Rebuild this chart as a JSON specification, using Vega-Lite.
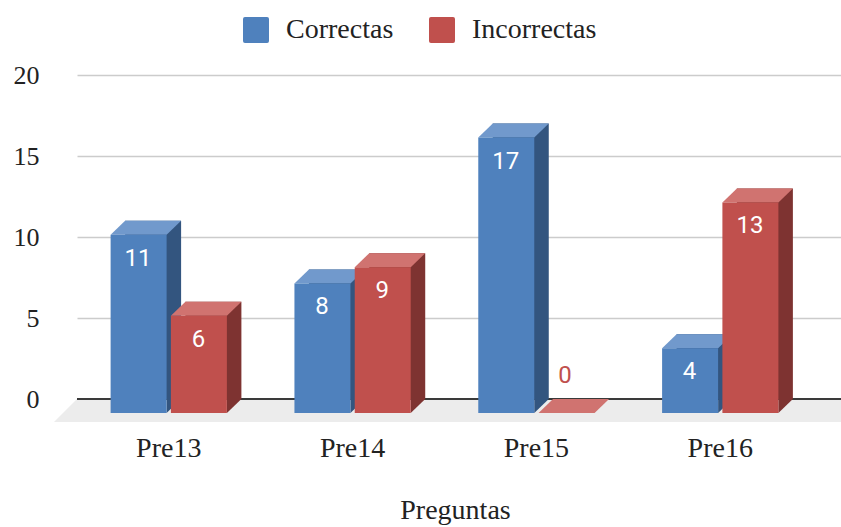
{
  "$schema": "https://vega.github.io/schema/vega-lite/v6.json",
  "width": 764,
  "height": 324,
  "autosize": {"type": "none"},
  "padding": {"left": 77, "top": 75, "right": 0, "bottom": 128},
  "background": "white",
  "config": {"view": {"stroke": null}, "font": "Liberation Serif"},
  "data": {
    "values": [
      {"pregunta": "Pre13", "tipo": "Correctas", "valor": 11},
      {"pregunta": "Pre13", "tipo": "Incorrectas", "valor": 6},
      {"pregunta": "Pre14", "tipo": "Correctas", "valor": 8},
      {"pregunta": "Pre14", "tipo": "Incorrectas", "valor": 9},
      {"pregunta": "Pre15", "tipo": "Correctas", "valor": 17},
      {"pregunta": "Pre15", "tipo": "Incorrectas", "valor": 0},
      {"pregunta": "Pre16", "tipo": "Correctas", "valor": 4},
      {"pregunta": "Pre16", "tipo": "Incorrectas", "valor": 13}
    ]
  },
  "resolve": {"scale": {"x": "independent", "xOffset": "independent"}, "axis": {"x": "independent"}},
  "layer": [
    {
      "transform": [{"aggregate": [{"op": "count", "as": "n"}]}],
      "mark": {"type": "rect", "color": "#ECECEC", "y2Offset": 23},
      "encoding": {
        "x": {"value": 0},
        "x2": {"value": "width"},
        "y": {"datum": 0, "type": "quantitative"},
        "y2": {"datum": 0}
      }
    },
    {
      "transform": [{"aggregate": [{"op": "count", "as": "n"}]}],
      "mark": {"type": "point", "shape": "M0,0L0,23L-23,23Z", "size": 4, "filled": true, "opacity": 1, "color": "#ECECEC", "strokeWidth": 0},
      "encoding": {
        "x": {"value": 0},
        "y": {"datum": 0, "type": "quantitative"}
      }
    },
    {
      "transform": [{"aggregate": [{"op": "count", "as": "n"}]}],
      "mark": {"type": "rule", "color": "#3a3a3a", "strokeWidth": 2},
      "encoding": {
        "y": {"datum": 0, "type": "quantitative"}
      }
    },
    {
      "mark": {"type": "bar"},
      "encoding": {
        "x": {
          "field": "pregunta", "type": "nominal",
          "scale": {"type": "band", "domain": ["Pre13", "Pre14", "Pre15", "Pre16"], "paddingInner": 0.344, "paddingOuter": 0.25},
          "axis": {
            "title": "Preguntas", "domain": false, "ticks": false, "grid": false,
            "labelAngle": 0, "labelOffset": -14.5, "labelPadding": 57, "labelBaseline": "alphabetic",
            "labelFont": "Liberation Serif", "labelFontSize": 28, "labelColor": "#222222",
            "titleFont": "Liberation Serif", "titleFontSize": 28, "titleFontWeight": "normal", "titleColor": "#222222",
            "titleBaseline": "alphabetic", "titleY": 119, "titleX": 378
          }
        },
        "xOffset": {"field": "tipo", "type": "nominal", "scale": {"type": "band", "domain": ["Correctas", "Incorrectas"], "paddingInner": 0.0713, "paddingOuter": 0.0357}},
        "y": {
          "field": "valor", "type": "quantitative",
          "scale": {"domain": [0, 20], "nice": false},
          "axis": {
            "title": null, "values": [0, 5, 10, 15, 20], "grid": true, "gridColor": "#cccccc", "gridWidth": 1.5,
            "domain": false, "ticks": false, "labelPadding": 38,
            "labelFont": "Liberation Serif", "labelFontSize": 26, "labelColor": "#222222"
          }
        },
        "color": {"condition": {"test": "datum.tipo === 'Correctas'", "value": "#33557F"}, "value": "#7E3331"}
      }
    },
    {
      "mark": {"type": "point", "shape": "M-28,0L28,0L13.5,14L-42.5,14Z", "size": 4, "filled": true, "opacity": 1, "strokeWidth": 0},
      "encoding": {
        "x": {"field": "pregunta", "type": "nominal", "scale": {"type": "band", "domain": ["Pre13", "Pre14", "Pre15", "Pre16"], "paddingInner": 0.344, "paddingOuter": 0.25}, "axis": null},
        "xOffset": {"field": "tipo", "type": "nominal", "scale": {"type": "band", "domain": ["Correctas", "Incorrectas"], "paddingInner": 0.0713, "paddingOuter": 0.0357}},
        "y": {"field": "valor", "type": "quantitative"},
        "color": {"condition": {"test": "datum.tipo === 'Correctas'", "value": "#7199CC"}, "value": "#D07370"}
      }
    },
    {
      "transform": [{"filter": "datum.valor > 0"}],
      "mark": {"type": "point", "shape": "M13.5,0L13.5,14L28,0Z", "size": 4, "filled": true, "opacity": 1, "strokeWidth": 0},
      "encoding": {
        "x": {"field": "pregunta", "type": "nominal", "scale": {"type": "band", "domain": ["Pre13", "Pre14", "Pre15", "Pre16"], "paddingInner": 0.344, "paddingOuter": 0.25}, "axis": null},
        "xOffset": {"field": "tipo", "type": "nominal", "scale": {"type": "band", "domain": ["Correctas", "Incorrectas"], "paddingInner": 0.0713, "paddingOuter": 0.0357}},
        "y": {"datum": 0, "type": "quantitative"},
        "color": {"condition": {"test": "datum.tipo === 'Correctas'", "value": "#33557F"}, "value": "#7E3331"}
      }
    },
    {
      "mark": {"type": "bar", "yOffset": 14, "y2Offset": 14},
      "encoding": {
        "x": {"field": "pregunta", "type": "nominal", "scale": {"type": "band", "domain": ["Pre13", "Pre14", "Pre15", "Pre16"], "paddingInner": 0.344, "paddingOuter": 0.25, "range": [-14.5, 749.5]}, "axis": null},
        "xOffset": {"field": "tipo", "type": "nominal", "scale": {"type": "band", "domain": ["Correctas", "Incorrectas"], "paddingInner": 0.0713, "paddingOuter": 0.0357}},
        "y": {"field": "valor", "type": "quantitative"},
        "color": {
          "field": "tipo", "type": "nominal",
          "scale": {"domain": ["Correctas", "Incorrectas"], "range": ["#4F81BD", "#C0504D"]},
          "legend": {
            "orient": "none", "legendX": 165, "legendY": -59, "direction": "horizontal", "title": null,
            "symbolType": "M-0.85,-1L0.85,-1Q1,-1 1,-0.85L1,0.85Q1,1 0.85,1L-0.85,1Q-1,1 -1,0.85L-1,-0.85Q-1,-1 -0.85,-1Z",
            "symbolSize": 676, "symbolStrokeWidth": 0, "symbolOpacity": 1,
            "labelFont": "Liberation Serif", "labelFontSize": 28, "labelColor": "#222222",
            "labelOffset": 16, "columnPadding": 34, "padding": 0
          }
        }
      }
    },
    {
      "transform": [{"filter": "datum.valor > 0"}],
      "mark": {"type": "text", "font": "Roboto", "fontSize": 24, "color": "white", "dx": -15, "dy": 45, "baseline": "alphabetic", "align": "center"},
      "encoding": {
        "x": {"field": "pregunta", "type": "nominal", "scale": {"type": "band", "domain": ["Pre13", "Pre14", "Pre15", "Pre16"], "paddingInner": 0.344, "paddingOuter": 0.25}, "axis": null},
        "xOffset": {"field": "tipo", "type": "nominal", "scale": {"type": "band", "domain": ["Correctas", "Incorrectas"], "paddingInner": 0.0713, "paddingOuter": 0.0357}},
        "y": {"field": "valor", "type": "quantitative"},
        "text": {"field": "valor", "type": "quantitative"}
      }
    },
    {
      "transform": [{"filter": "datum.valor == 0"}],
      "mark": {"type": "text", "font": "Roboto", "fontSize": 24, "color": "#C0504D", "dx": -16, "dy": -16, "baseline": "alphabetic", "align": "center"},
      "encoding": {
        "x": {"field": "pregunta", "type": "nominal", "scale": {"type": "band", "domain": ["Pre13", "Pre14", "Pre15", "Pre16"], "paddingInner": 0.344, "paddingOuter": 0.25}, "axis": null},
        "xOffset": {"field": "tipo", "type": "nominal", "scale": {"type": "band", "domain": ["Correctas", "Incorrectas"], "paddingInner": 0.0713, "paddingOuter": 0.0357}},
        "y": {"field": "valor", "type": "quantitative"},
        "text": {"field": "valor", "type": "quantitative"}
      }
    }
  ]
}
